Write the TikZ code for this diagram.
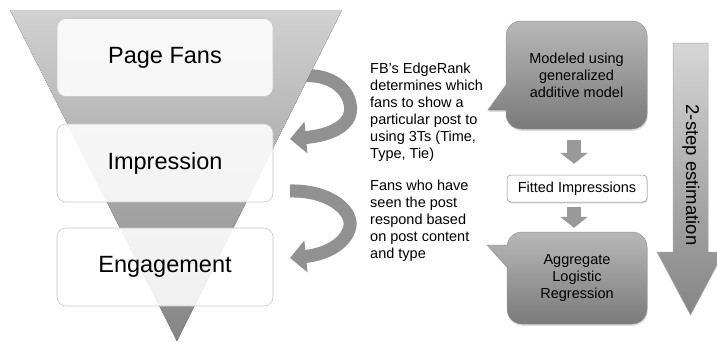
\documentclass[tikz,border=0pt]{standalone}
\usepackage{fontspec}
\setmainfont{Liberation Sans}
\usetikzlibrary{arrows.meta,shadows}
\begin{document}
\begin{tikzpicture}[x=1pt,y=-1pt,
  fbox/.style={draw=black!22, line width=0.6pt, fill=white, fill opacity=0.88, text opacity=1,
    rounded corners=9pt, minimum width=216pt, minimum height=78pt, inner sep=0pt,
    font=\fontsize{23.5}{28}\selectfont},
  desc/.style={align=left, inner sep=0pt, font=\fontsize{14.5}{17}\selectfont},
  ctext/.style={align=center, inner sep=0pt, font=\fontsize{14.5}{17}\selectfont},
  callout/.style={top color=black!28, bottom color=black!52, draw=black!42, line width=0.5pt,
    drop shadow={opacity=0.25, shadow xshift=0.8pt, shadow yshift=-1.8pt}},
  carrow/.style={draw=black!43, line width=13pt, -{Triangle[length=16pt,width=31pt]}},
  sarrow/.style={draw=black!40, line width=14pt, -{Triangle[length=11pt,width=27pt]}},
]
\useasboundingbox (0,0) rectangle (717,341);
\clip (0,0) rectangle (717,341);

% curved arrows (drawn first, funnel covers the start of the upper one)
\coordinate (c1s) at (300,76);
\coordinate (c1e) at (290,139);
\coordinate (c2s) at (290,191);
\coordinate (c2e) at (290,258);
\draw[carrow] (c1s) .. controls (340,72) and (356,100) .. (349,117) .. controls (342,131) and (322,136) .. (c1e);
\draw[carrow] (c2s) .. controls (330,190) and (356,212) .. (349,230) .. controls (342,248) and (320,255) .. (c2e);

% funnel
\fill[top color=black!18, bottom color=black!48] (10,10) -- (342,10) -- (177,341) -- cycle;

% funnel boxes
\node[fbox] (pf) at (165,57.5) {Page Fans};
\node[fbox] (im) at (165,163) {Impression};
\node[fbox] (en) at (165,267) {Engagement};

% descriptions
\node[desc, anchor=north west] (t1) at (370,62.5) {FB’s EdgeRank\\determines which\\fans to show a\\particular post to\\using 3Ts (Time,\\Type, Tie)};
\node[desc, anchor=north west] (t2) at (370,179.5) {Fans who have\\seen the post\\respond based\\on post content\\and type};

% callouts
\path[callout] (488,110) -- (506,85) -- (506,36) .. controls (506,27.7) and (512.7,21) .. (521,21) -- (632,21)
  .. controls (640.3,21) and (647,27.7) .. (647,36) -- (647,114) .. controls (647,122.3) and (640.3,129) .. (632,129) -- (521,129)
  .. controls (512.7,129) and (506,122.3) .. (506,114) -- (506,110) -- cycle;
\node[ctext, minimum width=141pt, minimum height=108pt] (mo) at (576.5,75) {Modeled using\\generalized\\additive model};

\path[callout] (487,245) -- (507,245) -- (507,247) .. controls (507,238.7) and (513.7,232) .. (522,232) -- (632,232)
  .. controls (640.3,232) and (647,238.7) .. (647,247) -- (647,309) .. controls (647,317.3) and (640.3,324) .. (632,324) -- (522,324)
  .. controls (513.7,324) and (507,317.3) .. (507,309) -- (507,267) -- cycle;
\node[ctext, minimum width=140pt, minimum height=92pt] (ag) at (577,278) {Aggregate\\Logistic\\Regression};

% fitted impressions
\node[draw=black!45, line width=0.5pt, fill=white, rounded corners=4pt, minimum width=140pt,
  minimum height=27pt, inner sep=0pt, font=\fontsize{14.5}{17}\selectfont,
  drop shadow={opacity=0.25, shadow xshift=0.6pt, shadow yshift=-1.5pt}] (fi) at (577,188.5) {Fitted Impressions};

% small arrows
\draw[sarrow, shorten <=11pt, shorten >=11pt] (mo.south -| 574,0) -- (fi.north -| 574,0);
\draw[sarrow, shorten <=5pt, shorten >=4pt] (fi.south -| 574,0) -- (ag.north -| 574,0);

% big arrow
\path[top color=black!16, bottom color=black!48, draw=black!35, line width=0.5pt]
  (673,43) -- (708,43) -- (708,252) -- (724,252) -- (690.5,315) -- (657,252) -- (673,252) -- cycle;
\node[rotate=-90, inner sep=0pt, font=\fontsize{18.5}{22}\selectfont] (est) at (691,175) {2-step estimation};
\end{tikzpicture}
\end{document}
